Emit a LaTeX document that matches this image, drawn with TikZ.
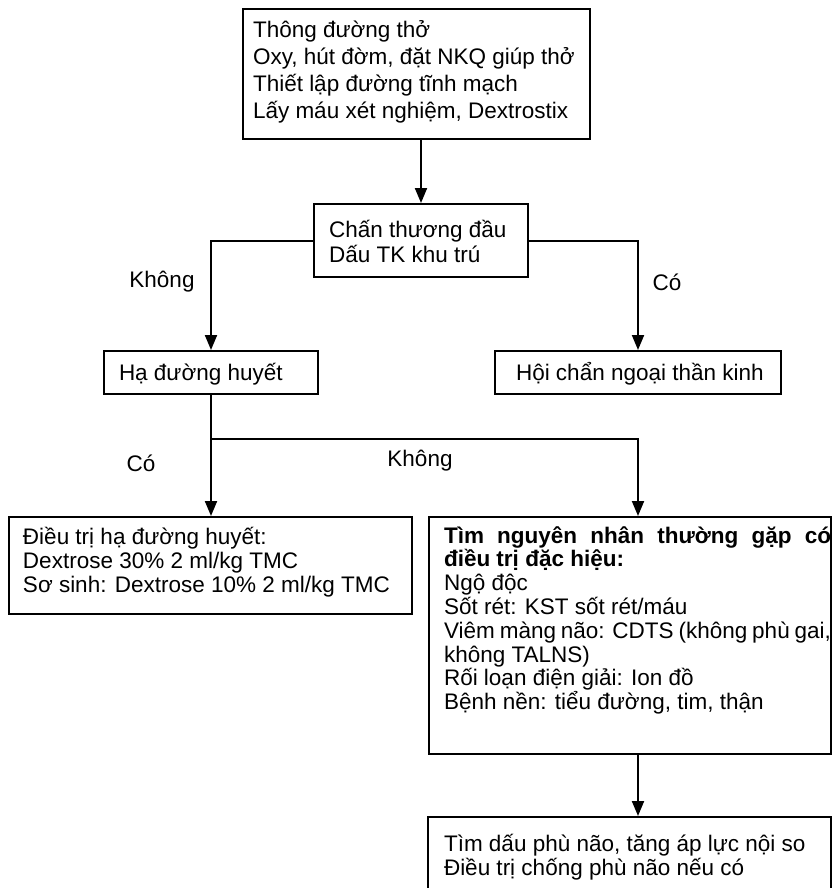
\documentclass[tikz,border=0pt]{standalone}
\usepackage{fontspec}
\setmainfont{Liberation Sans}
\usetikzlibrary{arrows.meta}

% text block of a box: width, height, left padding, first baseline, lines
\newcommand{\cellbox}[5]{%
  \begin{minipage}[t][#2][t]{#1}%
    \lineskiplimit=-\maxdimen\lineskip=0pt\leftskip=#3\relax
    \rule{0pt}{#4}#5%
  \end{minipage}}

\tikzset{
  cell/.style={draw, line width=2pt, inner sep=0pt, anchor=north west},
  arr/.style={line width=2pt, -{Triangle[length=15pt,width=12pt]}},
  lbl/.style={inner sep=0pt, font=\fontsize{22.5}{24}\selectfont},
}

\begin{document}
\begin{tikzpicture}[x=1pt, y=-1pt]
  \useasboundingbox (0,0) rectangle (832,888);
  \clip (0,0) rectangle (832,888);

  % boxes
  \node[cell, font=\fontsize{22.5}{26.8}\selectfont] (top) at (242,8)
    {\cellbox{347pt}{130pt}{10pt}{29pt}{Thông đường thở\\Oxy, hút đờm, đặt NKQ giúp thở\\Thiết lập đường tĩnh mạch\\Lấy máu xét nghiệm, Dextrostix}};

  \node[cell, font=\fontsize{22.5}{25}\selectfont] (mid) at (313,203)
    {\cellbox{214pt}{73pt}{15pt}{33pt}{Chấn thương đầu\\Dấu TK khu trú}};

  \node[cell, font=\fontsize{22.5}{25}\selectfont] (ha) at (103,350)
    {\cellbox{214pt}{43pt}{15pt}{29pt}{Hạ đường huyết}};

  \node[cell, font=\fontsize{22.5}{25}\selectfont] (hoi) at (494,350)
    {\cellbox{286pt}{43pt}{21pt}{29pt}{Hội chẩn ngoại thần kinh}};

  \node[cell, font=\fontsize{22.5}{24}\selectfont] (lbox) at (8,516)
    {\cellbox{403pt}{97pt}{14pt}{27pt}{Điều trị hạ đường huyết:\\Dextrose 30\% 2 ml/kg TMC\\Sơ sinh: Dextrose 10\% 2 ml/kg TMC}};

  \node[cell, font=\fontsize{22.5}{23.8}\selectfont] (rbox) at (428,516)
    {\cellbox{402pt}{237pt}{15pt}{26pt}{%
      \makebox[387pt][s]{\bfseries Tìm nguyên nhân thường gặp có}\\
      {\bfseries điều trị đặc hiệu:}\\
      Ngộ độc\\
      Sốt rét: KST sốt rét/máu\\
      Viêm màng não: CDTS (không phù gai,\\
      không TALNS)\\
      Rối loạn điện giải: Ion đồ\\
      Bệnh nền: tiểu đường, tim, thận}};

  \node[cell, font=\fontsize{22.5}{24}\selectfont] (bbox) at (427,816)
    {\cellbox{403pt}{90pt}{16pt}{34pt}{Tìm dấu phù não, tăng áp lực nội so\\Điều trị chống phù não nếu có}};

  % connectors
  \draw[arr] (mid.north |- top.south) -- (mid.north);
  \draw[arr] (mid.west) -| (ha.north);
  \draw[arr] (mid.east) -| (hoi.north);
  \draw[arr] (ha.south) -- (ha.south |- lbox.north);
  \path (ha.south) ++(0,44) coordinate (split);
  \draw[arr] (split) -| (hoi.south |- rbox.north);
  \draw[arr] (hoi.south |- rbox.south) -- (hoi.south |- bbox.north);

  % branch labels
  \node[lbl] (noA) at (162,282) {Không};
  \node[lbl] (yesA) at (667,282) {Có};
  \node[lbl] (yesB) at (141,463) {Có};
  \node[lbl] (noB) at (420,461) {Không};
\end{tikzpicture}
\end{document}
